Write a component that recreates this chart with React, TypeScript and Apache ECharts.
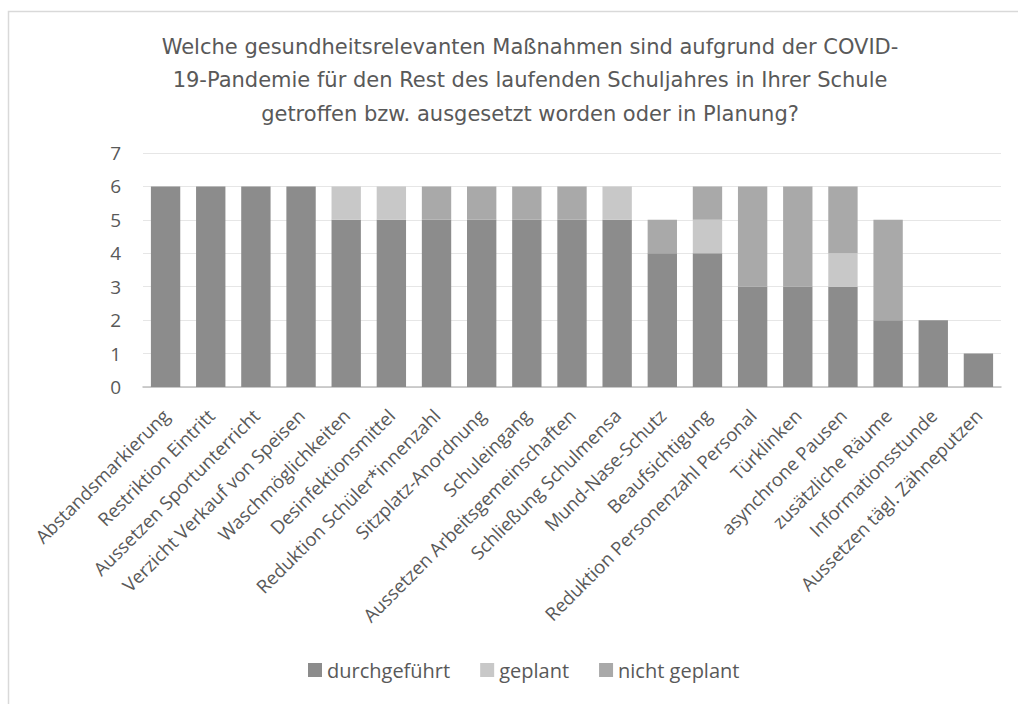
import React, { useEffect, useRef } from "react";
import * as echarts from "echarts";

const categories = [
  "Abstandsmarkierung",
  "Restriktion Eintritt",
  "Aussetzen Sportunterricht",
  "Verzicht Verkauf von Speisen",
  "Waschmöglichkeiten",
  "Desinfektionsmittel",
  "Reduktion Schüler*innenzahl",
  "Sitzplatz-Anordnung",
  "Schuleingang",
  "Aussetzen Arbeitsgemeinschaften",
  "Schließung Schulmensa",
  "Mund-Nase-Schutz",
  "Beaufsichtigung",
  "Reduktion Personenzahl Personal",
  "Türklinken",
  "asynchrone Pausen",
  "zusätzliche Räume",
  "Informationsstunde",
  "Aussetzen tägl. Zähneputzen",
];

const durchgefuehrt = [6, 6, 6, 6, 5, 5, 5, 5, 5, 5, 5, 4, 4, 3, 3, 3, 2, 2, 1];
const geplant = [0, 0, 0, 0, 1, 1, 0, 0, 0, 0, 1, 0, 1, 0, 0, 1, 0, 0, 0];
const nichtGeplant = [0, 0, 0, 0, 0, 0, 1, 1, 1, 1, 0, 1, 1, 3, 3, 2, 3, 0, 0];

const seriesNames = ["durchgeführt", "geplant", "nicht geplant"];
const yTicks = [0, 1, 2, 3, 4, 5, 6, 7];

const titleText =
  "Welche gesundheitsrelevanten Maßnahmen sind aufgrund der COVID-\n19-Pandemie für den Rest des laufenden Schuljahres in Ihrer Schule\ngetroffen bzw. ausgesetzt worden oder in Planung?";

export default function App() {
  const ref = useRef<HTMLDivElement>(null);
  useEffect(() => {
    document.body.style.margin = "0";
    const chart = echarts.init(ref.current!, null, { renderer: "svg" });
    const font = "'Open Sans', sans-serif";
    const mk = (name: string, data: number[], color: string) => ({
      name,
      type: "bar",
      stack: "total",
      data: data.map((v) => (v === 0 ? null : v)),
      barCategoryGap: "35%",
      itemStyle: { color },
    });
    chart.setOption({
      animation: false,
      backgroundColor: "#ffffff",
      textStyle: { fontFamily: font },
      graphic: [
        {
          type: "rect",
          shape: { x: 8.5, y: 11.5, width: 1200, height: 900 },
          style: { fill: "none", stroke: "#d9d9d9", lineWidth: 1.5 },
          silent: true,
          z: -1,
        },
        {
          type: "text",
          x: 530,
          y: 30,
          style: {
            text: titleText,
            fill: "#595959",
            font: "21px 'DejaVu Sans', sans-serif",
            textAlign: "center",
            lineHeight: 33.5,
          },
        },
      ],
      legend: {
        data: seriesNames,
        left: 303,
        top: 655,
        itemWidth: 14,
        itemHeight: 14,
        itemGap: 30,
        icon: "rect",
        textStyle: { color: "#595959", fontSize: 20, fontFamily: font },
      },
      grid: { left: 143, right: 17, top: 153, bottom: 317, containLabel: false },
      xAxis: {
        type: "category",
        data: categories,
        axisLine: { lineStyle: { color: "#bfbfbf", width: 1.5 } },
        axisTick: { show: false },
        axisLabel: {
          rotate: 45,
          interval: 0,
          color: "#595959",
          fontSize: 18.5,
          fontFamily: font,
          margin: 25,
        },
      },
      yAxis: {
        type: "value",
        min: yTicks[0],
        max: yTicks[yTicks.length - 1],
        interval: 1,
        axisLine: { show: false },
        axisTick: { show: false },
        axisLabel: { color: "#595959", fontSize: 19, fontFamily: font, margin: 22 },
        splitLine: { lineStyle: { color: "#e6e6e6", width: 1.2 } },
      },
      series: [
        mk(seriesNames[0], durchgefuehrt, "#8c8c8c"),
        mk(seriesNames[1], geplant, "#c8c8c8"),
        mk(seriesNames[2], nichtGeplant, "#a9a9a9"),
      ],
    });
    return () => chart.dispose();
  }, []);
  return <div ref={ref} style={{ width: 1018, height: 704 }} />;
}
